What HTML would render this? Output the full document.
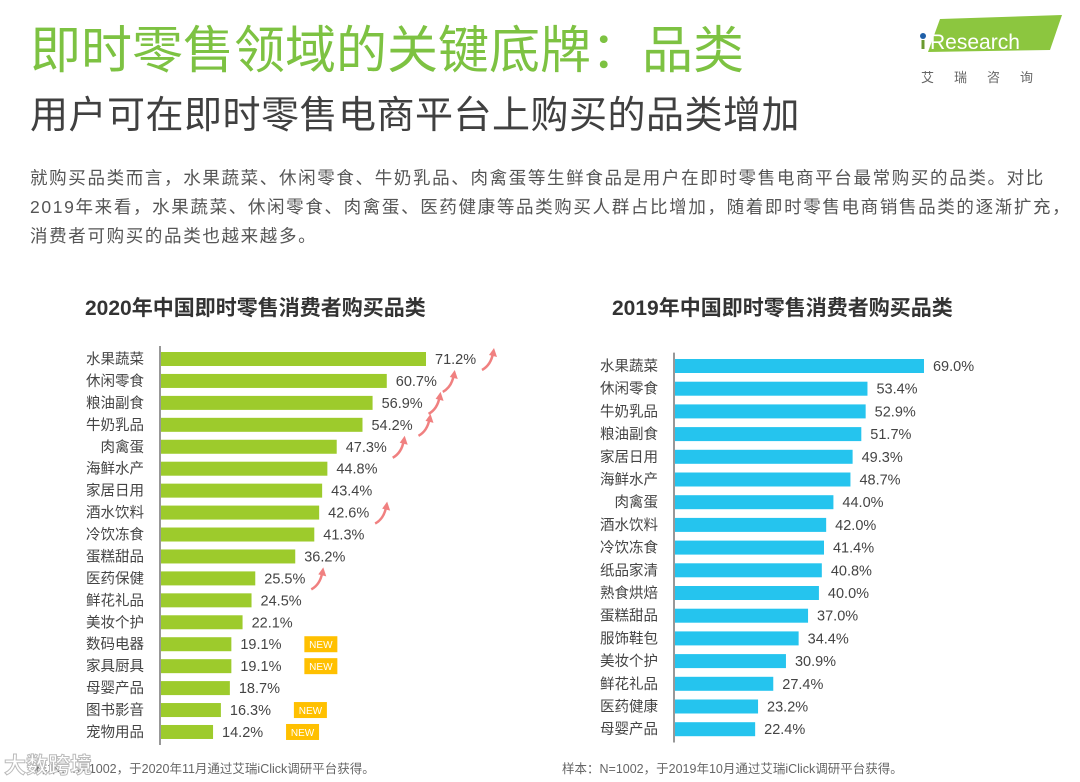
<!DOCTYPE html>
<html><head><meta charset="utf-8">
<style>
body{margin:0;width:1080px;height:782px;background:#fff;overflow:hidden;font-family:"Liberation Sans","Noto Sans CJK SC",sans-serif;position:relative}
.abs{position:absolute;white-space:nowrap}
#title{left:30px;top:20px;font-size:51px;color:#7dc242;letter-spacing:0px;line-height:62px}
#sub{left:30px;top:92px;font-size:38px;color:#404040;letter-spacing:0.5px;line-height:48px}
#body{left:30px;top:164px;font-size:17.5px;color:#555;line-height:29px;letter-spacing:1.65px}
.ct{font-size:21px;font-weight:bold;color:#333;top:292px}
.foot{font-size:12.5px;color:#666;top:758px}
</style></head><body>
<div class="abs" id="title">即时零售领域的关键底牌：品类</div>
<div class="abs" id="sub">用户可在即时零售电商平台上购买的品类增加</div>
<div class="abs" id="body">就购买品类而言，水果蔬菜、休闲零食、牛奶乳品、肉禽蛋等生鲜食品是用户在即时零售电商平台最常购买的品类。对比<br>2019年来看，水果蔬菜、休闲零食、肉禽蛋、医药健康等品类购买人群占比增加，随着即时零售电商销售品类的逐渐扩充，<br>消费者可购买的品类也越来越多。</div>
<svg class="abs" style="left:918px;top:12px" width="150" height="80">
<polygon points="22,7 144,3 132,38 10,40" fill="#8cc63f"/>
<circle cx="5" cy="24" r="3" fill="#1f5fa8"/>
<rect x="3.5" y="28" width="3" height="9" fill="#6a9a30"/>
<text x="12" y="37" font-size="21" fill="#fff" font-family="Liberation Sans">Research</text>
<text x="3" y="70" font-size="13" fill="#666" letter-spacing="20" font-family="Noto Sans CJK SC">艾瑞咨询</text>
</svg>
<div class="abs ct" style="left:85px">2020年中国即时零售消费者购买品类</div>
<div class="abs ct" style="left:612px">2019年中国即时零售消费者购买品类</div>
<svg id="chart" class="abs" style="left:0;top:0" width="1080" height="782"></svg>
<div class="abs foot" style="left:35px">样本：N=1002，于2020年11月通过艾瑞iClick调研平台获得。</div>
<div class="abs foot" style="left:562px">样本：N=1002，于2019年10月通过艾瑞iClick调研平台获得。</div>
<div class="abs" style="left:4px;top:748px;font-size:22px;color:#fff;-webkit-text-stroke:1px #bbb;font-weight:bold">大数跨境</div>
<script>
const cats2020=["水果蔬菜","休闲零食","粮油副食","牛奶乳品","肉禽蛋","海鲜水产","家居日用","酒水饮料","冷饮冻食","蛋糕甜品","医药保健","鲜花礼品","美妆个护","数码电器","家具厨具","母婴产品","图书影音","宠物用品"];
const vals2020=[71.2,60.7,56.9,54.2,47.3,44.8,43.4,42.6,41.3,36.2,25.5,24.5,22.1,19.1,19.1,18.7,16.3,14.2];
const up2020=[1,1,1,1,1,0,0,1,0,0,1,0,0,0,0,0,0,0];
const new2020=[0,0,0,0,0,0,0,0,0,0,0,0,0,1,1,0,1,1];
const cats2019=["水果蔬菜","休闲零食","牛奶乳品","粮油副食","家居日用","海鲜水产","肉禽蛋","酒水饮料","冷饮冻食","纸品家清","熟食烘焙","蛋糕甜品","服饰鞋包","美妆个护","鲜花礼品","医药健康","母婴产品"];
const vals2019=[69.0,53.4,52.9,51.7,49.3,48.7,44.0,42.0,41.4,40.8,40.0,37.0,34.4,30.9,27.4,23.2,22.4];
const NS="http://www.w3.org/2000/svg";
const svg=document.getElementById('chart');
function mk(t,a,p){const e=document.createElementNS(NS,t);for(const k in a)e.setAttribute(k,a[k]);(p||svg).appendChild(e);return e;}
function draw(cfg){
  const x=v=>cfg.x0+v*cfg.scale;
  const y=i=>cfg.y0+i*cfg.pitch;
  const ax=mk('line',{x1:cfg.x0,x2:cfg.x0,y1:y(0)-cfg.pitch/2-2,y2:y(cfg.cats.length-1)+cfg.pitch/2+2,stroke:'#777','stroke-width':1.5});
  
  
  cfg.cats.forEach((c,i)=>{
    const v=cfg.vals[i];
    const b=mk('rect',{x:cfg.x0+1,y:y(i)-cfg.bh/2,width:x(v)-cfg.x0-1,height:cfg.bh,fill:cfg.color});
    
    
    const l=mk('text',{x:cfg.x0-16,y:y(i)+5,'text-anchor':'end','font-size':14.5,fill:'#444','font-family':'Noto Sans CJK SC'});
    l.textContent=c;
    
    
    const t=mk('text',{x:x(v)+9,y:y(i)+5,'font-size':14.5,fill:'#444','font-family':'Liberation Sans'});
    t.textContent=v.toFixed(1)+'%';
    
    
    const end=x(v)+9+46;
    if(cfg.up&&cfg.up[i]){
      const g=mk('path',{d:`M${end+1} ${y(i)+11} Q${end+10} ${y(i)+6} ${end+12} ${y(i)-6}`,stroke:'#f08080','stroke-width':2.5,fill:'none'});
      
      
      const h=mk('polygon',{points:`${end+8},${y(i)-4} ${end+13},${y(i)-11} ${end+16},${y(i)-2}`,fill:'#f08080'});
      
      
    }
    if(cfg.nw&&cfg.nw[i]){
      const r=mk('rect',{x:end+18,y:y(i)-8,width:33,height:16,fill:'#ffc000'});
      
      
      const nt=mk('text',{x:end+34.5,y:y(i)+4,'text-anchor':'middle','font-size':10,fill:'#fff','font-family':'Liberation Sans'});
      nt.textContent='NEW';
      
      
    }
  });
}
draw({id:'2020',cats:cats2020,vals:vals2020,up:up2020,nw:new2020,x0:160,scale:3.736,y0:359,pitch:21.94,bh:14,color:'#9dcb2c'});
draw({id:'2019',cats:cats2019,vals:vals2019,x0:674,scale:3.623,y0:366,pitch:22.7,bh:14,color:'#25c4ee'});
</script>
</body></html>
